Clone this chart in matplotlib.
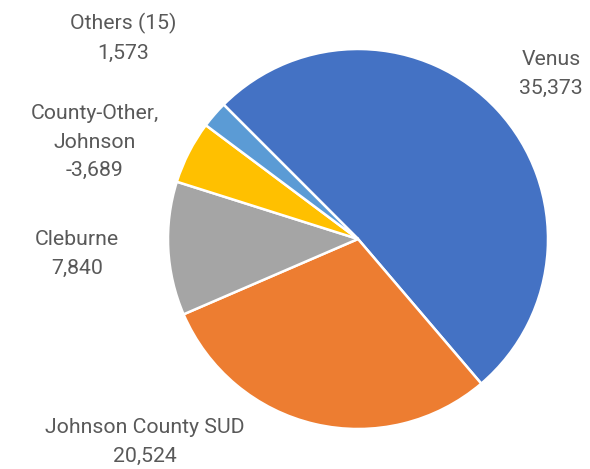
import matplotlib.pyplot as plt

# slices in drawing order (clockwise from upper left)
names = ["Venus", "Johnson County SUD", "Cleburne", "County-Other,\nJohnson", "Others (15)"]
values = [35373, 20524, 7840, -3689, 1573]
colors = ["#4472C4", "#ED7D31", "#A5A5A5", "#FFC000", "#5B9BD5"]

# label centres in pixel coords (x, y from top)
label_pos = [(551, 74), (145, 442), (77, 254), (95, 142), (123, 38)]

W, H = 590, 469
fig = plt.figure(figsize=(W / 100, H / 100), dpi=100)
ax = fig.add_axes([0, 0, 1, 1])

ax.pie([abs(v) for v in values], colors=colors, startangle=135, counterclock=False,
       center=(358, H - 239), radius=190,
       wedgeprops=dict(edgecolor="white", linewidth=1.8))

# pie() resets the limits, so set them afterwards
ax.set_xlim(0, W)
ax.set_ylim(0, H)
ax.set_aspect("equal")
ax.axis("off")

for name, v, (x, y) in zip(names, values, label_pos):
    ax.text(x, H - y, f"{name}\n{v:,}", ha="center", va="center",
            fontsize=15.3, family="Roboto", color="#595959", linespacing=1.62)

fig.savefig("out.png", dpi=100)
